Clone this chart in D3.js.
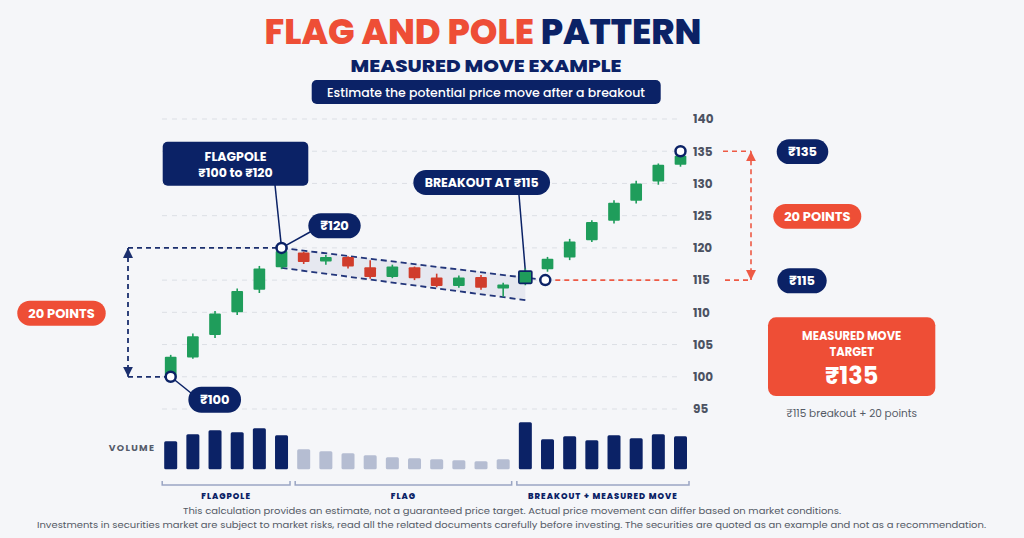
<!DOCTYPE html>
<html>
<head>
<meta charset="utf-8">
<title>Flag and pole pattern</title>
<script src="https://cdn.jsdelivr.net/npm/d3@7"></script>
<style>
    body { margin: 0; background: #f5f6f9; }
    svg text { font-family: Poppins, Inter, 'Noto Sans', sans-serif; }
    .tick text { font-size: 12px; font-weight: 700; fill: #4c5262; }
</style>
</head>
<body>
<div id="chart"></div>
<script>
// price data, one entry per candle
var opens  = [100, 103, 106.5, 110, 113.5, 117, 119.3, 117.9, 118.6, 117, 115.5, 117, 115.4, 114.1, 115.5, 113.7, 114.5, 116.7, 118.5, 121.2, 124.2, 127.3, 130.3, 132.9];
var closes = [103.1, 106.3, 109.8, 113.3, 116.8, 119.5, 117.8, 118.6, 117.1, 115.5, 117.1, 115.3, 114.1, 115.4, 113.8, 114.3, 116.4, 118.3, 121, 124, 127, 130, 132.9, 134.3];
var highs  = [103.4, 106.7, 110.2, 113.7, 117.2, 120, 119.4, 118.9, 118.7, 118.1, 117.4, 117.1, 116, 115.7, 115.8, 114.6, 116.8, 118.6, 121.4, 124.3, 127.4, 130.4, 133.1, 135];
var lows   = [100, 102.8, 106, 109.6, 113, 116.7, 117.5, 117.4, 116.8, 115.2, 115.3, 115, 113.9, 113.8, 113.5, 112.4, 114.2, 116.3, 118.1, 120.9, 123.8, 126.9, 129.8, 132.6];
var volumes = [28, 35, 39, 37, 41, 34, 20, 18, 16, 14, 12, 11, 10, 9, 8, 10, 47, 30, 33, 29, 34, 31, 35, 33];
var priceTicks = [95, 100, 105, 110, 115, 120, 125, 130, 135, 140];

var phaseNames = ['FLAGPOLE', 'FLAG', 'BREAKOUT + MEASURED MOVE'];
var phaseStart = [0, 6, 16];
var phaseEnd   = [5, 15, 23];
var breakoutIndex = 16;

// key levels
var poleLow = 100, poleHigh = 120, breakoutLevel = 115, target = 135;
var flagTop = [120, 115.5];     // upper flag line at candle 5 and 16
var flagBottom = [116.9, 111.9]; // lower flag line
var breakoutPoint = 16.9;        // where price crosses the flag line

var W = 1024, H = 538;
var NAVY = '#0b2266', ORANGE = '#ee4e36', GREEN = '#1f9d5b', RED = '#d03c2b';
var GRAY = '#545a66';

var svg = d3.select('#chart').append('svg')
    .attr('width', W).attr('height', H);

var x = d3.scaleLinear().domain([0, opens.length - 1]).range([170.7, 680.5]);
var y = d3.scaleLinear().domain([95, 140]).range([409, 119]);
var yv = d3.scaleLinear().domain([0, 50]).range([469.3, 419.3]);

var GRID_LEFT = 162, GRID_RIGHT = 680;
var LEFT_ARROW_X = 128, RIGHT_ARROW_X = 751;

// markers for the measuring arrows
var defs = svg.append('defs');
[['navyArrow', '#1b2f6e'], ['redArrow', '#ee5a45']].forEach(function(m) {
    defs.append('marker')
        .attr('id', m[0])
        .attr('viewBox', '0 0 10 10')
        .attr('refX', 10).attr('refY', 5)
        .attr('markerWidth', 10).attr('markerHeight', 10)
        .attr('markerUnits', 'userSpaceOnUse')
        .attr('orient', 'auto-start-reverse')
        .append('path').attr('d', 'M0,0 L10,5 L0,10 z').attr('fill', m[1]);
});

// titles
var title = svg.append('text')
    .attr('x', 483).attr('y', 43.5)
    .attr('text-anchor', 'middle')
    .attr('font-size', 34.5).attr('font-weight', 800)
    .attr('textLength', 437).attr('lengthAdjust', 'spacingAndGlyphs');
title.append('tspan').attr('fill', ORANGE).text('FLAG AND POLE ');
title.append('tspan').attr('fill', NAVY).text('PATTERN');

svg.append('text')
    .attr('x', 486).attr('y', 71.5)
    .attr('text-anchor', 'middle')
    .attr('font-size', 17.5).attr('font-weight', 800).attr('fill', NAVY)
    .attr('textLength', 271).attr('lengthAdjust', 'spacingAndGlyphs')
    .text('MEASURED MOVE EXAMPLE');

svg.append('rect')
    .attr('x', 311.7).attr('y', 80).attr('width', 349).attr('height', 24)
    .attr('rx', 5).attr('fill', NAVY);
svg.append('text')
    .attr('x', 486).attr('y', 96.5)
    .attr('text-anchor', 'middle')
    .attr('font-size', 13).attr('font-weight', 500).attr('fill', 'white')
    .attr('textLength', 318).attr('lengthAdjust', 'spacingAndGlyphs')
    .text('Estimate the potential price move after a breakout');

// gridlines
svg.append('g').selectAll('line')
    .data(priceTicks)
    .join('line')
    .attr('x1', GRID_LEFT).attr('x2', GRID_RIGHT)
    .attr('y1', function(d) { return y(d); })
    .attr('y2', function(d) { return y(d); })
    .attr('stroke', '#dcdfe5').attr('stroke-width', 1)
    .attr('stroke-dasharray', '5,5');

// price labels
var axis = svg.append('g')
    .attr('transform', 'translate(693,0)')
    .call(d3.axisRight(y).tickValues(priceTicks).tickSize(0).tickPadding(0));
axis.select('.domain').remove();

// flag channel
svg.append('polygon')
    .attr('points', [
        [x(5), y(flagTop[0])], [x(breakoutIndex), y(flagTop[1])],
        [x(breakoutIndex), y(flagBottom[1])], [x(5), y(flagBottom[0])]
    ].join(' '))
    .attr('fill', '#e6e8f0');

var flagLine = d3.line().x(function(d) { return x(d[0]); }).y(function(d) { return y(d[1]); });
svg.append('path')
    .attr('d', flagLine([[5, poleHigh], [breakoutPoint, breakoutLevel]]))
    .attr('stroke', '#22357a').attr('stroke-width', 1.8).attr('fill', 'none')
    .attr('stroke-dasharray', '6,4');
svg.append('path')
    .attr('d', flagLine([[5, flagBottom[0]], [breakoutIndex, flagBottom[1]]]))
    .attr('stroke', '#22357a').attr('stroke-width', 1.8).attr('fill', 'none')
    .attr('stroke-dasharray', '6,4');

// left measuring lines (flagpole height)
var navyDash = function(sel) {
    return sel.attr('stroke', '#1b2f6e').attr('stroke-width', 1.8).attr('stroke-dasharray', '5,4');
};
navyDash(svg.append('line')
    .attr('x1', LEFT_ARROW_X).attr('x2', x(5))
    .attr('y1', y(poleHigh)).attr('y2', y(poleHigh)));
navyDash(svg.append('line')
    .attr('x1', LEFT_ARROW_X).attr('x2', x(0))
    .attr('y1', y(poleLow)).attr('y2', y(poleLow)));
navyDash(svg.append('line')
    .attr('x1', LEFT_ARROW_X).attr('x2', LEFT_ARROW_X)
    .attr('y1', y(poleHigh)).attr('y2', y(poleLow)))
    .attr('marker-start', 'url(#navyArrow)')
    .attr('marker-end', 'url(#navyArrow)');

// right measuring lines (projected move)
var redDash = function(sel) {
    return sel.attr('stroke', '#ee5a45').attr('stroke-width', 1.6).attr('stroke-dasharray', '5,4');
};
redDash(svg.append('line')
    .attr('x1', x(breakoutPoint) + 10).attr('x2', GRID_RIGHT)
    .attr('y1', y(breakoutLevel)).attr('y2', y(breakoutLevel)));
redDash(svg.append('line')
    .attr('x1', 725).attr('x2', RIGHT_ARROW_X)
    .attr('y1', y(breakoutLevel)).attr('y2', y(breakoutLevel)));
redDash(svg.append('line')
    .attr('x1', 723).attr('x2', RIGHT_ARROW_X)
    .attr('y1', y(target)).attr('y2', y(target)));
redDash(svg.append('line')
    .attr('x1', RIGHT_ARROW_X).attr('x2', RIGHT_ARROW_X)
    .attr('y1', y(target)).attr('y2', y(breakoutLevel)))
    .attr('marker-start', 'url(#redArrow)')
    .attr('marker-end', 'url(#redArrow)');

// connectors to the labels
function connector(x1, y1, x2, y2) {
    svg.append('line')
        .attr('x1', x1).attr('y1', y1).attr('x2', x2).attr('y2', y2)
        .attr('stroke', NAVY).attr('stroke-width', 1.5);
}
connector(x(0), y(poleLow), 191, 393);
connector(x(5), y(poleHigh), 311, 231.5);
connector(x(5), y(poleHigh), 275, 185);
connector(x(breakoutIndex), y(closes[breakoutIndex]), 519, 195);

// candles
var idx = d3.range(opens.length);
svg.append('g').selectAll('line')
    .data(idx)
    .join('line')
    .attr('x1', function(i) { return x(i); })
    .attr('x2', function(i) { return x(i); })
    .attr('y1', function(i) { return y(highs[i]); })
    .attr('y2', function(i) { return y(lows[i]); })
    .attr('stroke', function(i) { return closes[i] >= opens[i] ? GREEN : RED; })
    .attr('stroke-width', 1.6);

svg.append('g').selectAll('rect')
    .data(idx)
    .join('rect')
    .attr('x', function(i) { return x(i) - (i === breakoutIndex ? 6.5 : 5.85); })
    .attr('width', function(i) { return i === breakoutIndex ? 13 : 11.7; })
    .attr('y', function(i) { return y(Math.max(opens[i], closes[i])); })
    .attr('height', function(i) { return Math.abs(y(opens[i]) - y(closes[i])); })
    .attr('rx', 1)
    .attr('fill', function(i) { return closes[i] >= opens[i] ? GREEN : RED; })
    .attr('stroke', function(i) { return i === breakoutIndex ? NAVY : 'none'; })
    .attr('stroke-width', 1.6);

// key points
svg.append('g').selectAll('circle')
    .data([[0, poleLow], [5, poleHigh], [breakoutPoint, breakoutLevel], [opens.length - 1, target]])
    .join('circle')
    .attr('cx', function(d) { return x(d[0]); })
    .attr('cy', function(d) { return y(d[1]); })
    .attr('r', 5)
    .attr('fill', 'white').attr('stroke', NAVY).attr('stroke-width', 2.5);

// pill labels
function pill(cx, cy, w, h, fill, label, size) {
    svg.append('rect')
        .attr('x', cx - w / 2).attr('y', cy - h / 2)
        .attr('width', w).attr('height', h)
        .attr('rx', h / 2).attr('fill', fill);
    svg.append('text')
        .attr('x', cx).attr('y', cy)
        .attr('dy', '0.36em')
        .attr('text-anchor', 'middle')
        .attr('font-size', size || 13).attr('font-weight', 700)
        .attr('fill', 'white')
        .text(label);
}
pill(61.5, 313.2, 88.4, 25, ORANGE, '20 POINTS');
pill(214.7, 399.7, 52.7, 26, NAVY, '₹' + poleLow);
pill(334.5, 225.8, 52.4, 25, NAVY, '₹' + poleHigh);
pill(481.7, 182.5, 136.7, 25, NAVY, 'BREAKOUT AT ₹' + breakoutLevel, 12.5);
pill(802.5, 151.7, 51.6, 24.7, NAVY, '₹' + target);
pill(817.3, 216.3, 88, 24.7, ORANGE, (target - breakoutLevel) + ' POINTS');
pill(802, 280.8, 49.4, 25, NAVY, '₹' + breakoutLevel);

// flagpole box
svg.append('rect')
    .attr('x', 162.7).attr('y', 141.7).attr('width', 145.6).attr('height', 44)
    .attr('rx', 5).attr('fill', NAVY);
svg.append('text')
    .attr('x', 235.5).attr('y', 160.5)
    .attr('text-anchor', 'middle')
    .attr('font-size', 12.5).attr('font-weight', 700).attr('fill', 'white')
    .text('FLAGPOLE');
svg.append('text')
    .attr('x', 235.5).attr('y', 177)
    .attr('text-anchor', 'middle')
    .attr('font-size', 12.5).attr('font-weight', 700).attr('fill', 'white')
    .text('₹' + poleLow + ' to ₹' + poleHigh);

// measured move target box
svg.append('rect')
    .attr('x', 768).attr('y', 317.3).attr('width', 167.3).attr('height', 78.7)
    .attr('rx', 8).attr('fill', ORANGE);
svg.append('text')
    .attr('x', 851.7).attr('y', 340)
    .attr('text-anchor', 'middle')
    .attr('font-size', 11.5).attr('font-weight', 700).attr('fill', 'white')
    .text('MEASURED MOVE');
svg.append('text')
    .attr('x', 851.7).attr('y', 356)
    .attr('text-anchor', 'middle')
    .attr('font-size', 11.5).attr('font-weight', 700).attr('fill', 'white')
    .text('TARGET');
svg.append('text')
    .attr('x', 851.7).attr('y', 384)
    .attr('text-anchor', 'middle')
    .attr('font-size', 24).attr('font-weight', 700).attr('fill', 'white')
    .text('₹' + target);
svg.append('text')
    .attr('x', 851.7).attr('y', 416.5)
    .attr('text-anchor', 'middle')
    .attr('font-size', 10.5).attr('fill', GRAY)
    .text('₹' + breakoutLevel + ' breakout + ' + (target - breakoutLevel) + ' points');

// volume bars
svg.append('text')
    .attr('x', 132).attr('y', 451)
    .attr('text-anchor', 'middle')
    .attr('font-size', 9.3).attr('font-weight', 700).attr('fill', '#555b6a')
    .attr('letter-spacing', 1.3)
    .text('VOLUME');

svg.append('g').selectAll('rect')
    .data(idx)
    .join('rect')
    .attr('x', function(i) { return x(i) - 6.5; })
    .attr('width', 13)
    .attr('y', function(i) { return yv(volumes[i]); })
    .attr('height', function(i) { return yv(0) - yv(volumes[i]); })
    .attr('rx', 1.5)
    .attr('fill', function(i) { return i >= phaseStart[1] && i <= phaseEnd[1] ? '#b5bdd2' : NAVY; });

// phase brackets
var phases = svg.append('g').selectAll('g')
    .data(d3.range(phaseNames.length))
    .join('g');
phases.append('path')
    .attr('d', function(p) {
        var x0 = x(phaseStart[p]) - 8.5, x1 = x(phaseEnd[p]) + 8.5;
        return 'M' + x0 + ',481 V485 H' + x1 + ' V481';
    })
    .attr('fill', 'none').attr('stroke', '#9aa5c3').attr('stroke-width', 1.5);
phases.append('text')
    .attr('x', function(p) { return (x(phaseStart[p]) + x(phaseEnd[p])) / 2; })
    .attr('y', 498.5)
    .attr('text-anchor', 'middle')
    .attr('font-size', 8.3).attr('font-weight', 800).attr('fill', NAVY)
    .attr('letter-spacing', 1)
    .text(function(p) { return phaseNames[p]; });

// footer
svg.append('text')
    .attr('x', 512).attr('y', 513.5)
    .attr('text-anchor', 'middle')
    .attr('font-size', 9.5).attr('fill', GRAY)
    .attr('textLength', 658).attr('lengthAdjust', 'spacingAndGlyphs')
    .text('This calculation provides an estimate, not a guaranteed price target. Actual price movement can differ based on market conditions.');
svg.append('text')
    .attr('x', 511.5).attr('y', 527.5)
    .attr('text-anchor', 'middle')
    .attr('font-size', 9.5).attr('fill', GRAY)
    .attr('textLength', 949).attr('lengthAdjust', 'spacingAndGlyphs')
    .text('Investments in securities market are subject to market risks, read all the related documents carefully before investing. The securities are quoted as an example and not as a recommendation.');
</script>
</body>
</html>
